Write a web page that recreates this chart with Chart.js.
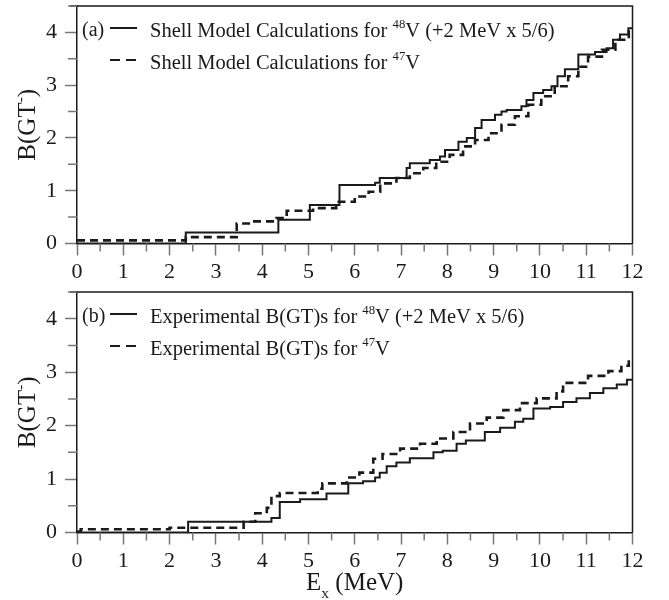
<!DOCTYPE html>
<html>
<head>
<meta charset="utf-8">
<script src="https://cdn.jsdelivr.net/npm/chart.js@4.4.1/dist/chart.umd.min.js"></script>
<style>
  html, body { margin: 0; padding: 0; background: #fff; }
  #wrap { position: relative; width: 669px; height: 600px; }
  canvas { position: absolute; left: 0; }
  #topChart { top: 0; }
  #botChart { top: 286px; }
</style>
</head>
<body>
<div id="wrap">
  <canvas id="topChart" width="669" height="290"></canvas>
  <canvas id="botChart" width="669" height="314"></canvas>
</div>
<script>
/* Cumulative B(GT-) strength vs excitation energy, two panels */

// x axis / y axis ranges and tick labels
const X_TICKS = [0, 1, 2, 3, 4, 5, 6, 7, 8, 9, 10, 11, 12];
const Y_TICKS = [0, 1, 2, 3, 4];
const Y_MAX = 4.5;

// (a) shell model, 48V (+2 MeV x 5/6) — step starts (MeV) and cumulative B(GT)
const smE48 = [0, 2.35, 4.35, 5.03, 5.67, 6.44, 6.54, 7.12, 7.19, 7.62, 7.84, 7.95, 8.24, 8.42, 8.60, 8.74,
               9.03, 9.17, 9.28, 9.60, 9.71, 9.86, 10.07, 10.25, 10.38, 10.54, 10.83, 11.19, 11.44, 11.58, 11.73, 11.91, 12];
const smB48 = [0, 0.21, 0.45, 0.73, 1.11, 1.15, 1.24, 1.43, 1.52, 1.58, 1.65, 1.77, 1.93, 2.00, 2.19, 2.34,
               2.44, 2.50, 2.53, 2.60, 2.72, 2.85, 2.91, 2.98, 3.17, 3.30, 3.58, 3.63, 3.70, 3.86, 3.96, 4.08, 4.08];

// (a) shell model, 47V
const smE47 = [0, 2.35, 3.45, 3.80, 4.31, 4.53, 5.10, 5.60, 6.00, 6.30, 6.55, 6.90, 7.19, 7.48, 7.76, 8.05,
               8.34, 8.60, 8.89, 9.17, 9.46, 9.75, 10.03, 10.32, 10.61, 10.83, 11.04, 11.34, 11.63, 11.92, 12];
const smB47 = [0.06, 0.12, 0.38, 0.42, 0.48, 0.62, 0.67, 0.79, 0.89, 0.98, 1.14, 1.24, 1.33, 1.43, 1.55, 1.68,
               1.84, 1.96, 2.09, 2.25, 2.41, 2.63, 2.79, 2.98, 3.17, 3.35, 3.54, 3.67, 3.86, 4.07, 4.07];

// (b) experimental, 48V (+2 MeV x 5/6)
const exE48 = [0, 2.40, 4.20, 4.38, 4.82, 5.39, 5.86, 6.18, 6.44, 6.54, 6.69, 6.90, 7.19, 7.70, 7.90, 8.20,
               8.40, 8.81, 9.14, 9.46, 9.64, 9.86, 10.22, 10.50, 10.79, 11.08, 11.37, 11.66, 11.88, 12];
const exB48 = [0, 0.20, 0.27, 0.57, 0.62, 0.73, 0.92, 0.96, 1.03, 1.12, 1.24, 1.31, 1.39, 1.50, 1.53, 1.66,
               1.72, 1.88, 1.96, 2.07, 2.13, 2.32, 2.35, 2.44, 2.51, 2.61, 2.70, 2.77, 2.86, 2.86];

// (b) experimental, 47V
const exE47 = [0, 0.08, 2.00, 3.60, 3.85, 4.10, 4.20, 4.38, 5.20, 5.30, 5.83, 6.10, 6.40, 6.60, 6.98, 7.41,
               7.77, 8.13, 8.49, 8.85, 9.21, 9.57, 9.93, 10.36, 10.50, 11.04, 11.48, 11.76, 11.92, 12];
const exB47 = [0.02, 0.06, 0.09, 0.20, 0.36, 0.46, 0.68, 0.74, 0.82, 0.92, 1.03, 1.12, 1.38, 1.47, 1.57, 1.66,
               1.76, 1.88, 2.04, 2.15, 2.29, 2.42, 2.51, 2.64, 2.80, 2.93, 3.02, 3.12, 3.20, 3.20];

const SERIF = '"Liberation Serif", "Times New Roman", serif';
const INK   = '#1a1a1a';
const TICKC = '#777';

const pts = (xs, ys) => xs.map((e, i) => ({ x: e, y: ys[i] }));

// draws text pieces left to right, with optional sup/sub pieces
function drawRich(ctx, x, y, parts, size) {
  for (const [txt, kind] of parts) {
    const s  = kind ? size * 0.62 : size;
    const dy = kind === 'sup' ? -size * 0.42 : kind === 'sub' ? size * 0.32 : 0;
    ctx.font = `${s}px ${SERIF}`;
    ctx.fillText(txt, x, y + dy);
    x += ctx.measureText(txt).width;
  }
  return x;
}
function richWidth(ctx, parts, size) {
  let w = 0;
  for (const [txt, kind] of parts) {
    ctx.font = `${kind ? size * 0.62 : size}px ${SERIF}`;
    w += ctx.measureText(txt).width;
  }
  return w;
}

/** frame, minor ticks, legend and axis titles */
const decor = {
  id: 'decor',
  afterDraw(chart, args, opts) {
    const { ctx, chartArea: a, scales: { x, y } } = chart;
    ctx.save();

    // top + right frame
    ctx.strokeStyle = INK; ctx.lineWidth = 1.5;
    ctx.beginPath();
    ctx.moveTo(a.left - 7, a.top); ctx.lineTo(a.right, a.top); ctx.lineTo(a.right, a.bottom);
    ctx.stroke();

    // minor ticks halfway between labelled ones
    ctx.strokeStyle = TICKC; ctx.lineWidth = 1.5;
    ctx.beginPath();
    X_TICKS.slice(0, -1).forEach(v => {
      const px = x.getPixelForValue(v + 0.5);
      ctx.moveTo(px, a.bottom); ctx.lineTo(px, a.bottom + 8);
    });
    Y_TICKS.forEach(v => {
      const py = y.getPixelForValue(v + 0.5);
      ctx.moveTo(a.left, py); ctx.lineTo(a.left - 9, py);
    });
    ctx.stroke();

    // legend
    ctx.fillStyle = INK; ctx.textBaseline = 'alphabetic'; ctx.textAlign = 'left';
    ctx.font = `20px ${SERIF}`;
    ctx.fillText(opts.tag, a.left + 5, a.top + 30);
    opts.items.forEach((it, i) => {
      const base = a.top + 31 + i * 32;
      ctx.setLineDash(it.dash ? [10, 6] : []);
      ctx.lineWidth = it.dash ? 2.2 : 2; ctx.strokeStyle = INK;
      ctx.beginPath(); ctx.moveTo(a.left + 33, base - 9); ctx.lineTo(a.left + 60, base - 9); ctx.stroke();
      drawRich(ctx, a.left + 73, base, it.parts, 20.5);
    });
    ctx.setLineDash([]);

    // y title, rotated
    const yParts = [['B(GT', null], ['-', 'sup'], [')', null]];
    ctx.save();
    ctx.translate(a.left - 42, (a.top + a.bottom) / 2);
    ctx.rotate(-Math.PI / 2);
    const yw = richWidth(ctx, yParts, 25);
    drawRich(ctx, -yw / 2, 0, yParts, 25);
    ctx.restore();

    // x title (bottom panel only)
    if (opts.xTitle) {
      const xParts = [['E', null], ['x', 'sub'], [' (MeV)', null]];
      const xw = richWidth(ctx, xParts, 25);
      drawRich(ctx, (a.left + a.right) / 2 - xw / 2, a.bottom + 57.5, xParts, 25);
    }
    ctx.restore();
  },
};

function makePanel(canvasId, solid, dashed, decorOpts, xAxisHeight) {
  return new Chart(document.getElementById(canvasId), {
    type: 'line',
    data: {
      datasets: [
        { data: solid,  borderColor: INK, borderWidth: 2,   stepped: true, pointRadius: 0, fill: false },
        { data: dashed, borderColor: INK, borderWidth: 2.6, stepped: true, pointRadius: 0, fill: false, borderDash: [8, 5] },
      ],
    },
    options: {
      responsive: false, animation: false,
      layout: { padding: { top: 6, right: 36.5, left: 0, bottom: 0 } },
      plugins: { legend: { display: false }, tooltip: { enabled: false }, decor: decorOpts },
      scales: {
        x: {
          type: 'linear', min: 0, max: 12,
          afterFit: s => { s.height = xAxisHeight; s.paddingLeft = 0; s.paddingRight = 0; },
          afterBuildTicks: s => { s.ticks = X_TICKS.map(v => ({ value: v })); },
          ticks: { font: { family: SERIF, size: 22 }, color: INK, padding: 4, maxRotation: 0, autoSkip: false },
          grid: { drawOnChartArea: false, drawTicks: true, tickLength: 12, tickColor: TICKC, tickWidth: 1.5 },
          border: { color: INK, width: 1.5 },
        },
        y: {
          type: 'linear', min: 0, max: Y_MAX,
          afterFit: s => { s.width = 77; s.paddingTop = 0; s.paddingBottom = 0; },
          afterBuildTicks: s => { s.ticks = Y_TICKS.map(v => ({ value: v })); },
          ticks: { font: { family: SERIF, size: 22 }, color: INK, padding: 8 },
          grid: { drawOnChartArea: false, drawTicks: true, tickLength: 12, tickColor: TICKC, tickWidth: 1.5 },
          border: { color: INK, width: 1.5 },
        },
      },
    },
    plugins: [decor],
  });
}

makePanel('topChart', pts(smE48, smB48), pts(smE47, smB47), {
  tag: '(a)',
  items: [
    { dash: false, parts: [['Shell Model Calculations for ', null], ['48', 'sup'], ['V (+2 MeV x 5/6)', null]] },
    { dash: true,  parts: [['Shell Model Calculations for ', null], ['47', 'sup'], ['V', null]] },
  ],
  xTitle: false,
}, 46.5);

makePanel('botChart', pts(exE48, exB48), pts(exE47, exB47), {
  tag: '(b)',
  items: [
    { dash: false, parts: [['Experimental B(GT)s for ', null], ['48', 'sup'], ['V (+2 MeV x 5/6)', null]] },
    { dash: true,  parts: [['Experimental B(GT)s for ', null], ['47', 'sup'], ['V', null]] },
  ],
  xTitle: true,
}, 67.5);
</script>
</body>
</html>
